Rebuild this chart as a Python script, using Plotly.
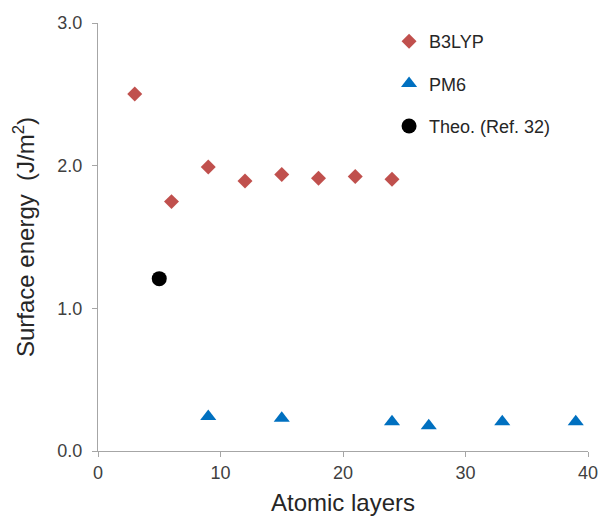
import plotly.graph_objects as go

b3lyp_x = [3, 6, 9, 12, 15, 18, 21, 24]
b3lyp_y = [2.503, 1.748, 1.99, 1.893, 1.938, 1.912, 1.924, 1.905]

pm6_x = [9, 15, 24, 27, 33, 39]
pm6_y = [0.241, 0.230, 0.205, 0.177, 0.205, 0.205]

theo_x = [5]
theo_y = [1.208]

x_ticks = [0, 10, 20, 30, 40]
y_ticks = [0.0, 1.0, 2.0, 3.0]
y_ticklabels = ["0.0", "1.0", "2.0", "3.0"]

font = "Liberation Sans, Arial, sans-serif"

fig = go.Figure()
fig.add_trace(go.Scatter(x=b3lyp_x, y=b3lyp_y, mode="markers", name="B3LYP",
                         legendgroup="a",
                         marker=dict(symbol="diamond", size=11.5, color="#C0504D")))
fig.add_trace(go.Scatter(x=pm6_x, y=pm6_y, mode="markers", name="PM6",
                         legendgroup="b",
                         marker=dict(symbol="triangle-up", size=14, color="#0070C0")))
fig.add_trace(go.Scatter(x=theo_x, y=theo_y, mode="markers", name="Theo. (Ref. 32)",
                         legendgroup="c",
                         marker=dict(symbol="circle", size=15, color="black")))

axis_common = dict(showgrid=False, zeroline=False, showline=True, linecolor="#A6A6A6",
                   linewidth=1, ticks="outside", ticklen=5, tickcolor="#A6A6A6",
                   tickfont=dict(family=font, size=18, color="#404040"))

fig.update_layout(
    width=600, height=516,
    margin=dict(l=98, r=12, t=23, b=65, autoexpand=False),
    paper_bgcolor="white", plot_bgcolor="white",
    font=dict(family=font, color="#262626"),
    xaxis=dict(range=[0, 40], tickvals=x_ticks,
               title=dict(text="Atomic layers", font=dict(family=font, size=24, color="#262626"),
                          standoff=16),
               **axis_common),
    yaxis=dict(range=[0, 3.0], tickvals=y_ticks, ticktext=y_ticklabels,
               title=dict(text="Surface energy  (J/m<sup>2</sup>)",
                          font=dict(family=font, size=24, color="#262626"), standoff=15),
               ticklabelstandoff=6,
               **axis_common),
    legend=dict(x=0.594, y=1.0, xanchor="left", yanchor="top",
                font=dict(family=font, size=18, color="#262626"),
                tracegroupgap=16, itemwidth=30, bgcolor="rgba(0,0,0,0)"),
    showlegend=True,
)

fig.write_html("out.html")
